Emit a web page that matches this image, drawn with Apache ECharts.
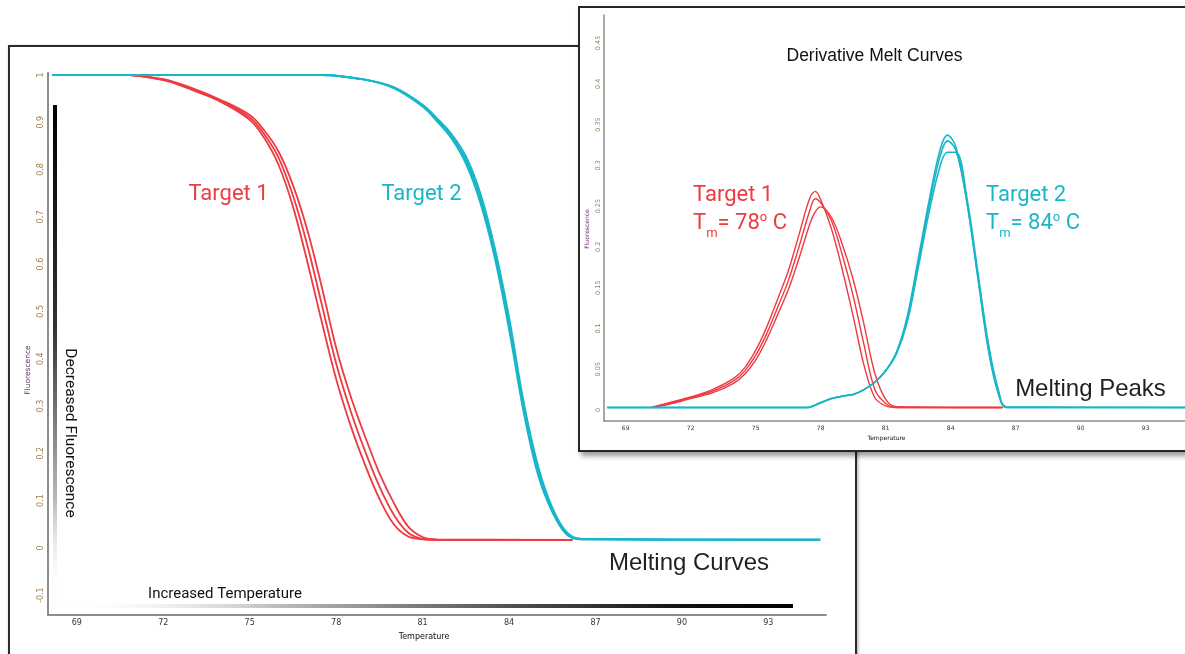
<!DOCTYPE html>
<html>
<head>
<meta charset="utf-8">
<title>Melting curves</title>
<script src="https://cdn.jsdelivr.net/npm/echarts@6.0.0/dist/echarts.min.js"></script>
<style>
  html, body { margin: 0; padding: 0; background: #fff; width: 1185px; height: 654px; overflow: hidden; position: relative; }
  .main { position: absolute; left: 8px; top: 45px; width: 849px; height: 620px; border: 2px solid #2b2b2b; box-sizing: border-box; box-shadow: 1px 1px 3px rgba(0,0,0,.35); }
  .inset { position: absolute; left: 578px; top: 6px; width: 620px; height: 446px; border: 2px solid #262626; box-sizing: border-box; background: #fff; box-shadow: 3px 4px 5px rgba(0,0,0,.4); z-index: 2; }
</style>
</head>
<body>
<div class="main" id="main"></div>
<div class="inset" id="inset"></div>
<script>
// tick labels
const tempTicks = [69, 72, 75, 78, 81, 84, 87, 90, 93]
const mainFluorTicks = [-0.1, 0, 0.1, 0.2, 0.3, 0.4, 0.5, 0.6, 0.7, 0.8, 0.9, 1]
const peakFluorTicks = [0, 0.05, 0.1, 0.15, 0.2, 0.25, 0.3, 0.35, 0.4, 0.45]

// melting curves (fluorescence vs temperature)
const meltTempRed = [68.15, 70.5, 72, 73, 74, 75, 75.5, 76, 76.5, 77, 77.5, 78, 78.5, 79, 79.5, 80, 80.5, 81, 81.5, 86.2]
const meltRed1 = [1, 1, 0.989, 0.968, 0.943, 0.905, 0.867, 0.81, 0.722, 0.605, 0.478, 0.357, 0.259, 0.176, 0.104, 0.05, 0.024, 0.018, 0.017, 0.017]
const meltRed2 = [1, 1, 0.99, 0.97, 0.945, 0.91, 0.875, 0.825, 0.745, 0.64, 0.515, 0.39, 0.29, 0.205, 0.13, 0.07, 0.032, 0.019, 0.017, 0.017]
const meltRed3 = [1, 1, 0.991, 0.972, 0.947, 0.915, 0.883, 0.838, 0.767, 0.672, 0.552, 0.423, 0.321, 0.236, 0.158, 0.095, 0.045, 0.023, 0.018, 0.017]

const meltTempTeal = [68.15, 77.5, 79, 80, 81, 81.5, 82, 82.5, 83, 83.5, 84, 84.5, 85, 85.5, 86, 86.5, 94.8]
const meltTeal1 = [1, 1, 0.99, 0.972, 0.933, 0.902, 0.866, 0.813, 0.731, 0.615, 0.463, 0.29, 0.156, 0.076, 0.028, 0.018, 0.017]
const meltTeal2 = [1, 1, 0.99, 0.973, 0.935, 0.905, 0.87, 0.82, 0.74, 0.625, 0.475, 0.3, 0.165, 0.08, 0.03, 0.018, 0.017]
const meltTeal3 = [1, 1, 0.99, 0.974, 0.937, 0.908, 0.875, 0.828, 0.75, 0.635, 0.487, 0.31, 0.174, 0.085, 0.033, 0.019, 0.017]

// derivative melt curves (melting peaks)
const peakTempRed = [70.2, 71, 72, 73, 74, 74.5, 75, 75.5, 76, 76.5, 77, 77.5, 77.75, 78, 78.5, 79, 79.5, 80, 80.5, 81, 81.5, 86.4]
const peakRed1 = [0.003, 0.009, 0.016, 0.025, 0.039, 0.052, 0.073, 0.101, 0.135, 0.17, 0.215, 0.26, 0.268, 0.258, 0.222, 0.172, 0.115, 0.055, 0.015, 0.005, 0.003, 0.003]
const peakRed2 = [0.003, 0.008, 0.015, 0.023, 0.036, 0.048, 0.067, 0.093, 0.125, 0.158, 0.2, 0.245, 0.259, 0.254, 0.232, 0.19, 0.14, 0.08, 0.025, 0.008, 0.003, 0.003]
const peakRed3 = [0.003, 0.007, 0.014, 0.021, 0.033, 0.044, 0.061, 0.086, 0.116, 0.147, 0.186, 0.228, 0.243, 0.249, 0.236, 0.203, 0.16, 0.105, 0.045, 0.013, 0.004, 0.003]

const peakTempTeal = [68.15, 77.35, 78, 78.5, 79, 79.5, 80, 80.5, 81, 81.5, 82, 82.5, 83, 83.5, 83.85, 84.25, 84.75, 85.25, 85.75, 86.2, 86.6, 95]
const peakTeal1 = [0.003, 0.003, 0.009, 0.014, 0.017, 0.019, 0.025, 0.034, 0.048, 0.071, 0.115, 0.185, 0.256, 0.318, 0.337, 0.322, 0.255, 0.163, 0.072, 0.02, 0.003, 0.003]
const peakTeal2 = [0.003, 0.003, 0.009, 0.014, 0.017, 0.019, 0.025, 0.034, 0.048, 0.07, 0.112, 0.18, 0.25, 0.31, 0.33, 0.318, 0.255, 0.165, 0.075, 0.022, 0.003, 0.003]
const peakTeal3 = [0.003, 0.003, 0.009, 0.014, 0.017, 0.019, 0.025, 0.034, 0.048, 0.069, 0.108, 0.174, 0.242, 0.298, 0.316, 0.316, 0.26, 0.17, 0.08, 0.025, 0.004, 0.003]

const RED = '#ee3a42'
const TEAL = '#19b6c9'
const MYRIAD = 'Roboto, "Noto Sans", sans-serif'
const ARIAL = '"Liberation Sans", Arial, sans-serif'
const TAHOMA = '"DejaVu Sans", sans-serif'

// canvas used only to measure text widths for the "Tm = .." labels
const measureCtx = document.createElement('canvas').getContext('2d')
function textWidth(text, size, family) {
  measureCtx.font = size + 'px ' + family
  return measureCtx.measureText(text).width
}

function pairs(xs, ys) {
  return xs.map((x, i) => [x, ys[i]])
}

function curve(xs, ys, color, width) {
  return {
    type: 'line',
    data: pairs(xs, ys),
    symbol: 'none',
    smooth: 0.35,
    lineStyle: { color: color, width: width },
    silent: true,
    animation: false
  }
}

function label(text, x, y, size, color, family, extra, align) {
  return Object.assign({
    type: 'text',
    x: x,
    y: y,
    z: 100,
    style: { text: text, fontSize: size, fontFamily: family, fill: color, align: align || 'center', verticalAlign: 'middle' }
  }, extra || {})
}

// "Tm= 78° C" built from pieces: subscript m, superscript o
function tmLabel(value, x, y, color) {
  let parts = [
    { t: 'T', size: 22, dy: 0 },
    { t: 'm', size: 13, dy: 10.5 },
    { t: '= ' + value, size: 22, dy: 0 },
    { t: 'o', size: 13, dy: -5.5 },
    { t: ' C', size: 22, dy: 0 }
  ]
  let els = []
  let cx = x
  parts.forEach(p => {
    els.push(label(p.t, cx, y + p.dy, p.size, color, MYRIAD, null, 'left'))
    cx += textWidth(p.t, p.size, MYRIAD)
  })
  return els
}

// ---- main chart: melting curves ----
let mainChart = echarts.init(document.getElementById('main'))
mainChart.setOption({
  animation: false,
  grid: { left: 38, top: 26, width: 778, height: 542, containLabel: false, outerBoundsMode: 'none' },
  xAxis: {
    type: 'value',
    min: 68,
    max: 95,
    axisLine: { show: true, onZero: false, lineStyle: { color: '#8c8c8c', width: 2 } },
    axisTick: { show: false },
    splitLine: { show: false },
    axisLabel: { customValues: tempTicks, margin: 4, fontSize: 8, fontFamily: TAHOMA, color: '#3d3322' }
  },
  yAxis: {
    type: 'value',
    min: -0.142,
    max: 1.004,
    axisLine: { show: true, onZero: false, lineStyle: { color: '#8c8c8c', width: 2 } },
    axisTick: { show: false },
    splitLine: { show: false },
    axisLabel: { customValues: mainFluorTicks, rotate: 90, margin: 3, fontSize: 8, fontFamily: TAHOMA, color: '#9b7b4f' }
  },
  series: [
    curve(meltTempRed, meltRed1, RED, 1.8),
    curve(meltTempRed, meltRed2, RED, 1.8),
    curve(meltTempRed, meltRed3, RED, 1.8),
    curve(meltTempTeal, meltTeal1, TEAL, 2),
    curve(meltTempTeal, meltTeal2, TEAL, 2),
    curve(meltTempTeal, meltTeal3, TEAL, 2)
  ],
  graphic: {
    elements: [
      {
        type: 'rect', z: 90,
        shape: { x: 43, y: 58, width: 4, height: 495 },
        style: { fill: new echarts.graphic.LinearGradient(0, 0, 0, 1, [
          { offset: 0, color: '#000' }, { offset: 0.45, color: '#333' },
          { offset: 0.8, color: '#bbb' }, { offset: 1, color: 'rgba(255,255,255,0)' }]) }
      },
      {
        type: 'rect', z: 90,
        shape: { x: 50, y: 557, width: 733, height: 4 },
        style: { fill: new echarts.graphic.LinearGradient(0, 0, 1, 0, [
          { offset: 0, color: 'rgba(255,255,255,0)' }, { offset: 0.3, color: '#bbb' },
          { offset: 0.6, color: '#555' }, { offset: 0.85, color: '#111' }, { offset: 1, color: '#000' }]) }
      },
      label('Target 1', 218.5, 147, 22, RED, MYRIAD),
      label('Target 2', 411.5, 147, 22, TEAL, MYRIAD),
      label('Melting Curves', 679, 516, 24, '#231f20', ARIAL),
      label('Increased Temperature', 215, 547, 15, '#111', MYRIAD),
      label('Decreased Fluorescence', 60, 386, 15.5, '#111', MYRIAD, { rotation: -Math.PI / 2 }),
      label('Fluorescence', 18, 323, 7.5, '#6d2b6b', TAHOMA, { rotation: Math.PI / 2 }),
      label('Temperature', 414, 590, 8, '#111', TAHOMA)
    ]
  }
})

// ---- inset chart: derivative melt curves ----
let insetChart = echarts.init(document.getElementById('inset'))
insetChart.setOption({
  animation: false,
  grid: { left: 24, top: 7, width: 585, height: 406, containLabel: false, outerBoundsMode: 'none' },
  xAxis: {
    type: 'value',
    min: 68,
    max: 95,
    axisLine: { show: true, onZero: false, lineStyle: { color: '#8c8c8c', width: 1.5 } },
    axisTick: { show: false },
    splitLine: { show: false },
    axisLabel: { customValues: tempTicks, margin: 4, fontSize: 6, fontFamily: TAHOMA, color: '#3d3322' }
  },
  yAxis: {
    type: 'value',
    min: -0.0135,
    max: 0.4843,
    axisLine: { show: true, onZero: false, lineStyle: { color: '#8c8c8c', width: 1.5 } },
    axisTick: { show: false },
    splitLine: { show: false },
    axisLabel: { customValues: peakFluorTicks, rotate: 90, margin: 2, fontSize: 6.5, fontFamily: TAHOMA, color: '#9b7b4f' }
  },
  series: [
    curve(peakTempRed, peakRed1, RED, 1.4),
    curve(peakTempRed, peakRed2, RED, 1.4),
    curve(peakTempRed, peakRed3, RED, 1.4),
    curve(peakTempTeal, peakTeal1, TEAL, 1.6),
    curve(peakTempTeal, peakTeal2, TEAL, 1.6),
    curve(peakTempTeal, peakTeal3, TEAL, 1.6)
  ],
  graphic: {
    elements: [
      label('Derivative Melt Curves', 294.5, 48, 17.5, '#111', ARIAL),
      label('Target 1', 113, 187, 22, RED, MYRIAD, null, 'left'),
      label('Target 2', 406, 187, 22, TEAL, MYRIAD, null, 'left'),
      label('Melting Peaks', 510.5, 381, 24, '#231f20', ARIAL),
      label('Fluorescence', 7, 221, 6, '#6d2b6b', TAHOMA, { rotation: Math.PI / 2 }),
      label('Temperature', 306.5, 430, 6, '#111', TAHOMA)
    ].concat(tmLabel('78', 113, 215, RED), tmLabel('84', 406, 215, TEAL))
  }
})
</script>
</body>
</html>
